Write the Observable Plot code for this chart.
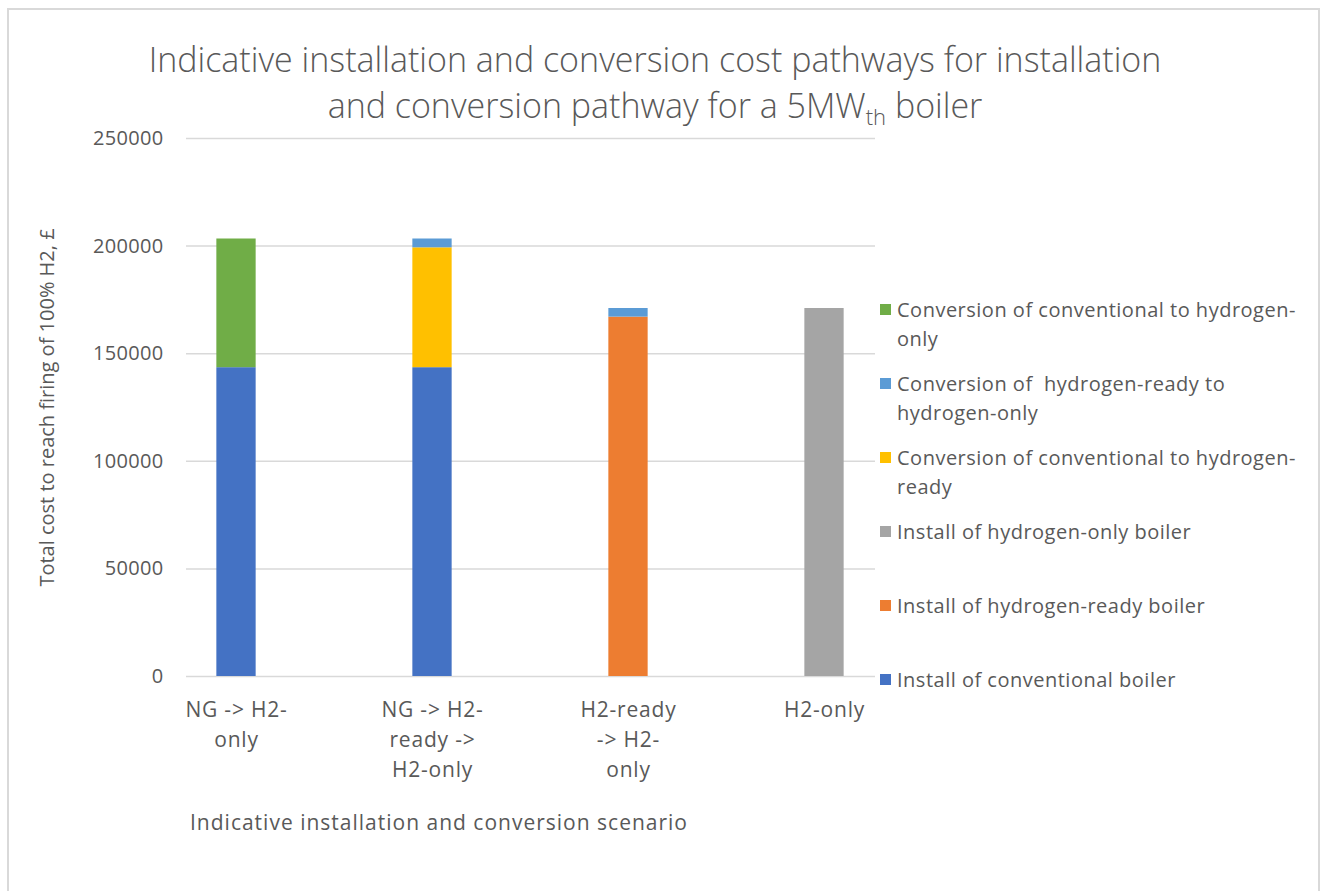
<!DOCTYPE html>
<html>
<head>
<meta charset="utf-8">
<script src="https://cdn.jsdelivr.net/npm/d3@7"></script>
<script src="https://cdn.jsdelivr.net/npm/@observablehq/plot@0.6"></script>
<style>
  html, body { margin: 0; padding: 0; background: #fff; }
  #wrap { position: relative; width: 1322px; height: 891px; overflow: hidden; font-family: "Open Sans", Lato, sans-serif; color: #595959; }
  #frame { position: absolute; left: 7px; top: 8px; width: 1313px; height: 900px; border: 2px solid #d9d9d9; box-sizing: border-box; }
  #title { position: absolute; left: 0; top: 36px; width: 1310px; text-align: center; font-size: 34px; font-weight: 300; line-height: 46px; }
  #title sub { font-size: 22px; vertical-align: -7px; line-height: 0; }
  #chart { position: absolute; left: 0; top: 0; }
  #xtitle { position: absolute; left: 190px; top: 808px; font-size: 21px; letter-spacing: 1px; line-height: 28px; white-space: nowrap; }
  .leg { position: absolute; left: 880px; font-size: 20px; letter-spacing: 0.5px; line-height: 29px; white-space: pre; }
  .leg .sw { position: absolute; left: 0; top: 9px; width: 11px; height: 11px; }
  .leg .tx { position: absolute; left: 17px; top: 0; }
  #chart g[aria-label="x-axis tick label"] text { letter-spacing: 0.8px; }
  #chart g[aria-label="y-axis tick label"] text { letter-spacing: 0.3px; }
</style>
</head>
<body>
<div id="wrap">
  <div id="frame"></div>
  <div id="chart"></div>
  <div id="title">Indicative installation and conversion cost pathways for installation<br>and conversion pathway for a 5MW<sub>th</sub> boiler</div>
  <div id="xtitle">Indicative installation and conversion scenario</div>
</div>
<script>
// Categories (scenarios) and their tick labels
const scenarios = ["NG -> H2-only", "NG -> H2-ready -> H2-only", "H2-ready -> H2-only", "H2-only"];
const tickLabels = ["NG -> H2-\nonly", "NG -> H2-\nready ->\nH2-only", "H2-ready\n-> H2-\nonly", "H2-only"];

// Series, in stacking order (bottom to top)
const seriesNames = [
  "Install of conventional boiler",
  "Install of hydrogen-ready boiler",
  "Install of hydrogen-only boiler",
  "Conversion of conventional to hydrogen-ready",
  "Conversion of  hydrogen-ready to hydrogen-only",
  "Conversion of conventional to hydrogen-only"
];
const seriesColors = ["#4472C4", "#ED7D31", "#A5A5A5", "#FFC000", "#5B9BD5", "#70AD47"];

// Series values, one per scenario
const installConventional = [143500, 143500, 0, 0];
const installH2Ready      = [0, 0, 167000, 0];
const installH2Only       = [0, 0, 0, 171000];
const convConvToReady     = [0, 55700, 0, 0];
const convReadyToOnly     = [0, 4100, 4000, 0];
const convConvToOnly      = [59800, 0, 0, 0];
const seriesValues = [installConventional, installH2Ready, installH2Only, convConvToReady, convReadyToOnly, convConvToOnly];

// Legend text lines (top to bottom in legend)
const legendLines = [
  ["Conversion of conventional to hydrogen-", "only"],
  ["Conversion of  hydrogen-ready to", "hydrogen-only"],
  ["Conversion of conventional to hydrogen-", "ready"],
  ["Install of hydrogen-only boiler"],
  ["Install of hydrogen-ready boiler"],
  ["Install of conventional boiler"]
];
const legendSeries = [5, 4, 3, 2, 1, 0];

const yTicks = [0, 50000, 100000, 150000, 200000, 250000];

const rows = seriesNames.flatMap((s, si) =>
  scenarios.map((c, ci) => ({scenario: c, series: s, value: seriesValues[si][ci]}))
);

const chart = Plot.plot({
  width: 1322,
  height: 891,
  marginLeft: 186,
  marginRight: 447,
  marginTop: 138,
  marginBottom: 215,
  style: {fontFamily: "'Open Sans', Lato, sans-serif", color: "#595959", background: "transparent"},
  x: {type: "band", domain: scenarios, range: [136.7, 923.5], padding: 0},
  y: {domain: [0, 250000]},
  color: {domain: seriesNames, range: seriesColors},
  marks: [
    Plot.gridY(yTicks.slice(1), {stroke: "#d9d9d9", strokeOpacity: 1, strokeWidth: 1.5}),
    Plot.ruleY([0], {stroke: "#d9d9d9", strokeWidth: 1.5}),
    Plot.barY(rows, {x: "scenario", y: "value", fill: "series", insetLeft: 78.35, insetRight: 78.35}),
    Plot.axisY(yTicks, {
      tickSize: 0, tickPadding: 23, tickFormat: d => String(d), fontSize: 20,
      label: "Total cost to reach firing of 100% H2, £", labelAnchor: "center", labelArrow: "none", labelOffset: 147
    }),
    Plot.axisX({
      tickSize: 0, tickPadding: 19, tickFormat: (d) => tickLabels[scenarios.indexOf(d)],
      fontSize: 21, lineHeight: 1.43, label: null
    })
  ]
});
document.getElementById("chart").appendChild(chart);

const wrap = document.getElementById("wrap");
legendLines.forEach((lines, i) => {
  const item = document.createElement("div");
  item.className = "leg";
  item.style.top = (309 + 74 * i - 14.5) + "px";
  const sw = document.createElement("div");
  sw.className = "sw";
  sw.style.background = seriesColors[legendSeries[i]];
  const tx = document.createElement("div");
  tx.className = "tx";
  tx.textContent = lines.join("\n");
  item.appendChild(sw);
  item.appendChild(tx);
  wrap.appendChild(item);
});
</script>
</body>
</html>
